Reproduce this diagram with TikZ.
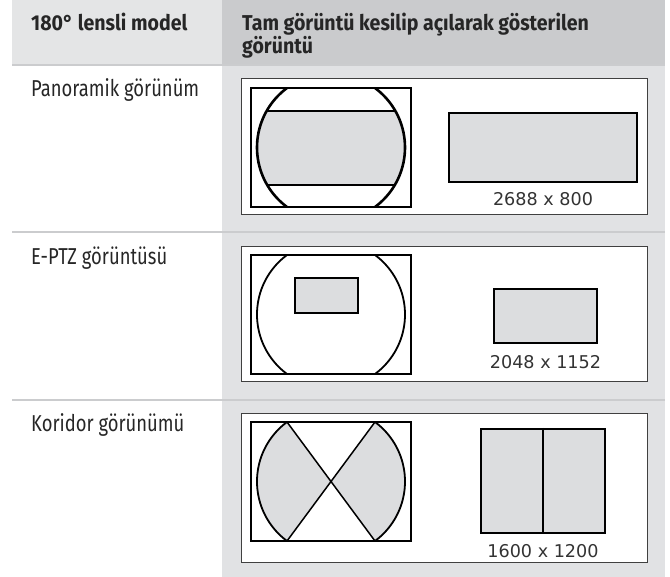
\documentclass[tikz,border=0pt]{standalone}
\usepackage{fontspec}
\setmainfont{Fira Sans}
\newfontfamily\headfont{Fira Sans}[FakeStretch=0.91]
\newfontfamily\rowfont{Fira Sans}[FakeStretch=0.8]
\newfontfamily\sizefont{DejaVu Sans}
\usetikzlibrary{positioning}
\definecolor{headlight}{HTML}{E4E5E6}
\definecolor{headdark}{HTML}{CACBCD}
\definecolor{bodygray}{HTML}{E1E2E4}
\definecolor{rulegray}{HTML}{CBCCCE}
\definecolor{viewgray}{HTML}{DCDDDF}
\definecolor{boxline}{HTML}{404040}
\begin{document}
\begin{tikzpicture}[x=1pt,y=-1pt,inner sep=0pt,
    headtext/.style={font=\headfont\bfseries\fontsize{21.5}{23.5}\selectfont,anchor=base west,text=black!85},
    rowtext/.style={font=\rowfont\fontsize{23}{26}\selectfont,anchor=base west,text=black!85},
    sizelabel/.style={font=\sizefont\fontsize{17.6}{20}\selectfont,text=black!80,text height=12.8pt,text depth=0pt},
    viewbox/.style={draw=black,line width=2pt,fill=viewgray},
    fisheye/.style={draw=black,line width=2pt},
    cellbox/.style={draw=boxline,line width=0.8pt,fill=white}]
\useasboundingbox (0,0) rectangle (670,577);
% table
\fill[headlight] (12,0) rectangle (222,64);
\fill[headdark] (222,0) rectangle (665,64);
\fill[bodygray] (222,64) rectangle (665,577);
\foreach \y in {65,232,400}
  \draw[rulegray,line width=2pt] (12,\y) -- (665,\y);
\node[headtext] (modelhead) at (31,31) {180° lensli model};
\node[headtext,align=left] (viewhead) at (242,54) {Tam görüntü kesilip açılarak gösterilen\\görüntü};
\node[rowtext] (panorow) at (31,97) {Panoramik görünüm};
\node[rowtext] (ptzrow) at (31,265) {E-PTZ görüntüsü};
\node[rowtext] (corrrow) at (31,432) {Koridor görünümü};
% cells
\draw[cellbox] (241,78) rectangle (647,214);
\draw[cellbox] (241,246) rectangle (647,381);
\draw[cellbox] (241,413) rectangle (647,562);
% panoramic band
\begin{scope}
  \clip (331,147.5) circle[radius=74pt];
  \fill[viewgray] (251,111) rectangle (411,185);
  \draw[line width=1.5pt] (251,111) -- (411,111) (251,185) -- (411,185);
\end{scope}
% corridor wedges
\begin{scope}
  \clip (331,481.5) circle[radius=74pt];
  \fill[viewgray] (331,481.5) -- (287,422) -- (240,422) -- (240,541) -- (287,541) -- cycle;
  \fill[viewgray] (331,481.5) -- (375,422) -- (420,422) -- (420,541) -- (375,541) -- cycle;
\end{scope}
\draw[line width=1.5pt] (287,422) -- (375,541) (375,422) -- (287,541);
% fisheye frames
\foreach \top/\lw in {88/2.6,255/1.8,422/1.8} {
  \begin{scope}
    \clip (251,\top) rectangle (411,\top+119);
    \draw[line width=\lw pt] (331,\top+59.5) circle[radius=74pt];
  \end{scope}
  \draw[fisheye] (251,\top) rectangle (411,\top+119);
}
\node[viewbox,line width=1.6pt,minimum width=63pt,minimum height=35pt] (ptzwindow) at (326.5,295.5) {};
% dewarped views
\node[viewbox,minimum width=188pt,minimum height=69pt] (panoview) at (543,147.5) {};
\node[sizelabel,below=10pt of panoview] (panosize) {2688 x 800};
\node[viewbox,minimum width=103pt,minimum height=54pt] (ptzview) at (545.5,316) {};
\node[sizelabel,below=12pt of ptzview] (ptzsize) {2048 x 1152};
\node[viewbox,minimum width=124pt,minimum height=104pt] (corrview) at (543,481) {};
\draw[line width=2pt] (corrview.north) -- (corrview.south);
\node[sizelabel,below=10pt of corrview] (corrsize) {1600 x 1200};
\end{tikzpicture}
\end{document}
